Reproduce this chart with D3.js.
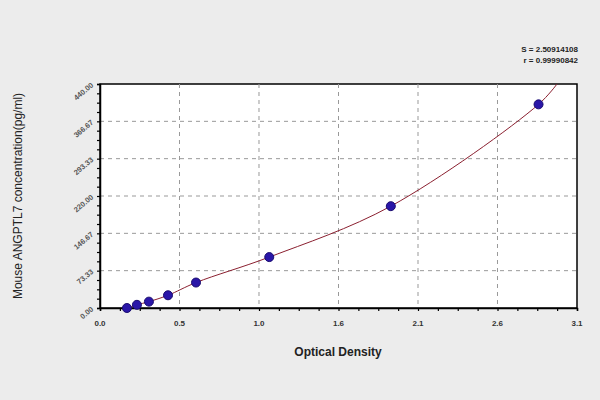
<!DOCTYPE html>
<html><head><meta charset="utf-8">
<script src="https://cdn.jsdelivr.net/npm/d3@7"></script>
<style>body{margin:0;background:#ececec}text{font-family:"Liberation Sans",Arial,sans-serif}</style>
</head><body>
<script>
var od = [0.175, 0.24, 0.318, 0.442, 0.624, 1.10, 1.89, 2.85];
var conc = [0, 6.25, 12.5, 25, 50, 100, 200, 400];
var curveOD = [0.15, 0.175, 0.24, 0.318, 0.442, 0.624, 1.10, 1.89, 2.85, 2.97];
var curveConc = [-2, 0, 6.25, 12.5, 25, 50, 100, 200, 400, 440];
var xTicks = [0, 0.5167, 1.0333, 1.55, 2.0667, 2.5833, 3.1];
var xLabels = ["0.0", "0.5", "1.0", "1.6", "2.1", "2.6", "3.1"];
var yTicks = [0, 73.33, 146.67, 220, 293.33, 366.67, 440];
var yLabels = ["0.00", "73.33", "146.67", "220.00", "293.33", "366.67", "440.00"];

var svg = d3.select("body").append("svg").attr("width", 600).attr("height", 400);
svg.append("rect").attr("width", 600).attr("height", 400).attr("fill", "#ececec");
var x = d3.scaleLinear().domain([0, 3.1]).range([100, 577]);
var y = d3.scaleLinear().domain([0, 440]).range([308, 84]);

svg.append("rect").attr("x", 100).attr("y", 84).attr("width", 477).attr("height", 224)
  .attr("fill", "#fff").attr("stroke", "#000").attr("stroke-width", 1.5);

// grid
svg.selectAll(".gx").data(xTicks.slice(1, -1)).enter().append("line")
  .attr("x1", d => x(d)).attr("x2", d => x(d)).attr("y1", 84).attr("y2", 308)
  .attr("stroke", "#999").attr("stroke-dasharray", "4,4");
svg.selectAll(".gy").data(yTicks.slice(1, -1)).enter().append("line")
  .attr("y1", d => y(d)).attr("y2", d => y(d)).attr("x1", 100).attr("x2", 577)
  .attr("stroke", "#999").attr("stroke-dasharray", "4,4");

var xa = svg.append("g").attr("transform", "translate(0,308)")
  .call(d3.axisBottom(x).tickValues(d3.range(0, 3.1001, 3.1 / 24)).tickSize(3).tickFormat(""));
var ya = svg.append("g").attr("transform", "translate(100,0)")
  .call(d3.axisLeft(y).tickValues(d3.range(0, 440.01, 440 / 24)).tickSize(3).tickFormat(""));
[xa, ya].forEach(a => { a.select(".domain").attr("stroke-width", 1.5); a.selectAll("line").attr("stroke-width", 1.2); });

svg.selectAll(".xl").data(xTicks).enter().append("text")
  .attr("x", d => x(d)).attr("y", 326).attr("text-anchor", "middle")
  .attr("font-size", 8).attr("font-weight", "bold").attr("fill", "#333")
  .text((d, i) => xLabels[i]);
svg.selectAll(".yl").data(yTicks).enter().append("text")
  .attr("transform", d => "translate(94," + (y(d) + 2) + ") rotate(-40)")
  .attr("text-anchor", "end").attr("font-size", 7.5).attr("font-weight", "bold").attr("fill", "#555")
  .text((d, i) => yLabels[i]);

var line = d3.line().x(d => x(d[0])).y(d => y(d[1])).curve(d3.curveCatmullRom);
svg.append("path").datum(curveOD.map((d, i) => [d, curveConc[i]]))
  .attr("d", line).attr("fill", "none").attr("stroke", "#8b2030").attr("stroke-width", 1);

svg.selectAll(".pt").data(od).enter().append("circle")
  .attr("cx", d => x(d)).attr("cy", (d, i) => y(conc[i])).attr("r", 4.5)
  .attr("fill", "#2a16a8").attr("stroke", "#1a0c70");

svg.append("text").attr("transform", "translate(22,196) rotate(-90)").attr("text-anchor", "middle")
  .attr("font-size", 12).attr("fill", "#222").text("Mouse ANGPTL7 concentration(pg/ml)");
svg.append("text").attr("x", 338).attr("y", 356).attr("text-anchor", "middle")
  .attr("font-size", 12).attr("font-weight", "bold").attr("fill", "#222").text("Optical Density");
svg.append("text").attr("x", 578).attr("y", 52).attr("text-anchor", "end")
  .attr("font-size", 8).attr("font-weight", "bold").attr("fill", "#222").text("S = 2.50914108");
svg.append("text").attr("x", 578).attr("y", 63).attr("text-anchor", "end")
  .attr("font-size", 8).attr("font-weight", "bold").attr("fill", "#222").text("r = 0.99990842");
</script>
</body></html>
